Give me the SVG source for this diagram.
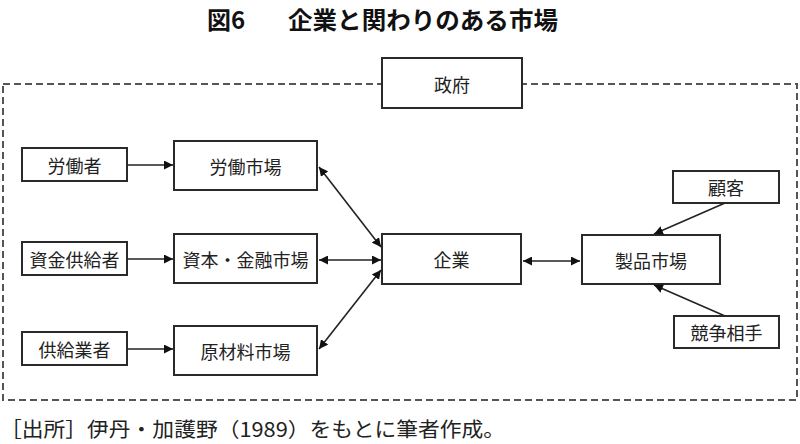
<svg xmlns="http://www.w3.org/2000/svg" width="800" height="444" viewBox="0 0 800 444">
<style>
.box{fill:#fff;stroke:#2a2a2a;stroke-width:2}
.lbl{font-family:"Noto Sans CJK JP","Noto Sans CJK SC",sans-serif;font-size:18px;fill:#222;text-anchor:middle;dominant-baseline:central}
.title{font-family:"Noto Sans CJK JP","Noto Sans CJK SC",sans-serif;font-size:24px;font-weight:bold;fill:#111}
.foot{font-family:"Noto Sans CJK JP","Noto Sans CJK SC",sans-serif;font-size:20px;fill:#222}
.con{stroke:#222;stroke-width:1.6;fill:none}
.dash{fill:none;stroke:#555;stroke-width:2;stroke-dasharray:7 4}
</style>
<defs>
<marker id="ah" viewBox="0 0 10 10" refX="10" refY="5" markerWidth="9" markerHeight="9" markerUnits="userSpaceOnUse" orient="auto-start-reverse">
<path d="M0,0 L10,5 L0,10 z" fill="#111"/>
</marker>
</defs>
<rect width="800" height="444" fill="#fff"/>
<text class="title" x="207" y="29">図6</text>
<text class="title" x="288" y="29" textLength="270" lengthAdjust="spacingAndGlyphs">企業と関わりのある市場</text>
<rect class="dash" x="3" y="84" width="794" height="316"/>
<g id="n-seifu"><rect class="box" x="382" y="58" width="140" height="50"/><text class="lbl" x="452" y="84">政府</text></g>
<g id="n-roudousha"><rect class="box" x="22" y="148" width="105" height="33"/><text class="lbl" x="74.5" y="164.5">労働者</text></g>
<g id="n-roudoushijou"><rect class="box" x="174" y="141" width="143" height="49"/><text class="lbl" x="245.5" y="165.5">労働市場</text></g>
<g id="n-shikin"><rect class="box" x="22" y="242" width="105" height="33"/><text class="lbl" x="74.5" y="258.5">資金供給者</text></g>
<g id="n-shihon"><rect class="box" x="174" y="234" width="143" height="49"/><text class="lbl" x="245.5" y="258.5">資本・金融市場</text></g>
<g id="n-kyoukyuu"><rect class="box" x="22" y="332" width="105" height="33"/><text class="lbl" x="74.5" y="348.5">供給業者</text></g>
<g id="n-genzairyou"><rect class="box" x="174" y="326" width="143" height="49"/><text class="lbl" x="245.5" y="350.5">原材料市場</text></g>
<g id="n-kigyou"><rect class="box" x="382" y="234" width="139" height="50"/><text class="lbl" x="451.5" y="259">企業</text></g>
<g id="n-seihin"><rect class="box" x="582" y="235" width="138" height="49"/><text class="lbl" x="651" y="259.5">製品市場</text></g>
<g id="n-kokyaku"><rect class="box" x="673" y="171" width="106" height="32"/><text class="lbl" x="726" y="187">顧客</text></g>
<g id="n-kyousou"><rect class="box" x="674" y="316" width="105" height="32"/><text class="lbl" x="726.5" y="332">競争相手</text></g>
<g id="connectors">
<line class="con" x1="127" y1="165" x2="173" y2="165" marker-end="url(#ah)"/>
<line class="con" x1="127" y1="259" x2="173" y2="259" marker-end="url(#ah)"/>
<line class="con" x1="127" y1="349" x2="173" y2="349" marker-end="url(#ah)"/>
<line class="con" x1="319" y1="167" x2="381" y2="247" marker-start="url(#ah)" marker-end="url(#ah)"/>
<line class="con" x1="319" y1="260" x2="381" y2="260" marker-start="url(#ah)" marker-end="url(#ah)"/>
<line class="con" x1="319" y1="349" x2="381" y2="270" marker-start="url(#ah)" marker-end="url(#ah)"/>
<line class="con" x1="523" y1="261" x2="580" y2="261" marker-start="url(#ah)" marker-end="url(#ah)"/>
<line class="con" x1="725" y1="203" x2="654" y2="234" marker-end="url(#ah)"/>
<line class="con" x1="725" y1="316" x2="654" y2="285" marker-end="url(#ah)"/>
</g>
<text class="foot" x="0" y="437" textLength="505" lengthAdjust="spacingAndGlyphs">［出所］伊丹・加護野（1989）をもとに筆者作成。</text>
</svg>
